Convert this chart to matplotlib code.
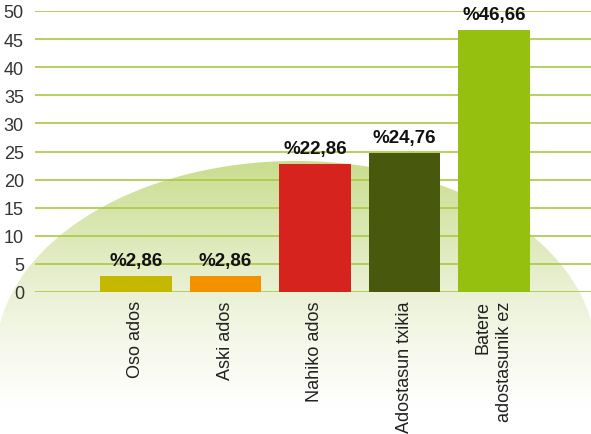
import matplotlib
import matplotlib.pyplot as plt
import numpy as np
from matplotlib.colors import LinearSegmentedColormap
from matplotlib.path import Path

matplotlib.use("Agg")

categories = ["Oso ados", "Aski ados", "Nahiko ados", "Adostasun txikia", "Batere\nadostasunik ez"]
values = [2.86, 2.86, 22.86, 24.76, 46.66]
value_labels = ["%2,86", "%2,86", "%22,86", "%24,76", "%46,66"]
bar_colors = ["#c4b800", "#f39200", "#d6231e", "#48590e", "#95c00f"]
y_ticks = [0, 5, 10, 15, 20, 25, 30, 35, 40, 45, 50]

plt.rcParams["font.family"] = ["Liberation Sans", "DejaVu Sans"]

W, H = 591, 435
fig = plt.figure(figsize=(W / 100, H / 100), dpi=100)
fig.patch.set_facecolor("#ffffff")

# background dome: green-to-white vertical gradient, clipped to an upper half-ellipse
# that continues straight down to the bottom edge (pixel coords, y down)
bg = fig.add_axes([0, 0, 1, 1], zorder=0)
bg.set_xlim(0, W)
bg.set_ylim(H, 0)
bg.axis("off")
fade = LinearSegmentedColormap.from_list(
    "fade", [(0.0, "#cadd8e"), (0.5, "#e9f0d2"), (0.8, "#f8faf0"), (1.0, "#ffffff")]
)
grad = np.linspace(0, 1, 256).reshape(-1, 1)
img = bg.imshow(grad, cmap=fade, extent=(-10, W + 10, 410, 162), aspect="auto", interpolation="bilinear")
cx, cy, rx, ry = 296, 357, 300, 195
t = np.linspace(np.pi, 0, 200)
verts = list(zip(cx + rx * np.cos(t), cy - ry * np.sin(t)))
verts += [(cx + rx, H + 5), (cx - rx, H + 5), verts[0]]
dome = Path(verts, closed=True)
img.set_clip_path(dome, bg.transData)

ax = fig.add_axes([35 / W, 142 / H, 1 - 35 / W, (293 - 12) / H], zorder=1)
ax.patch.set_alpha(0)

x = np.arange(len(categories))
ax.bar(x, values, width=0.8, color=bar_colors, zorder=3)
for xi, v, lab in zip(x, values, value_labels):
    ax.annotate(lab, (xi, v), xytext=(0, 5), textcoords="offset points", ha="center", va="bottom",
                fontsize=13.5, fontweight="bold", color="#111111", zorder=4, annotation_clip=False)

ax.set_xlim(-1.128, 5.084)
ax.set_ylim(0, 50)
ax.set_yticks(y_ticks)
ax.yaxis.grid(True, color="#a9c944", linewidth=1.2, zorder=1)
ax.set_axisbelow(True)
for spine in ax.spines.values():
    spine.set_visible(False)
ax.tick_params(axis="y", length=0, pad=8, labelsize=13, labelcolor="#333333")
ax.tick_params(axis="x", length=0, pad=6, labelsize=13, labelcolor="#222222")
ax.set_xticks(x)
ax.set_xticklabels(categories, rotation=90, va="top", ha="center", multialignment="right", linespacing=1.35)

fig.savefig("out.png", dpi=100)
